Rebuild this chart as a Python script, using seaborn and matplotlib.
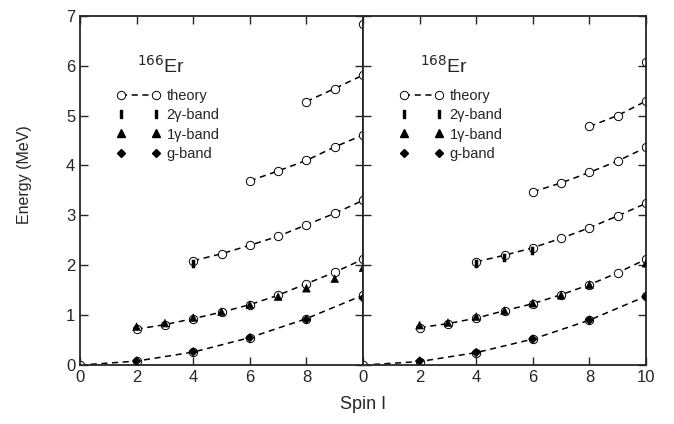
import numpy as np
import pandas as pd
import matplotlib
matplotlib.use("Agg")
import matplotlib.pyplot as plt
from matplotlib.lines import Line2D
import seaborn as sns

# Theory bands (K = 0, 2, 4, 6, 8, 10), energies in MeV
er166_theory = {
    "K0": ([0, 2, 4, 6, 8, 10], [0.0, 0.08, 0.26, 0.55, 0.93, 1.40]),
    "K2": ([2, 3, 4, 5, 6, 7, 8, 9, 10], [0.72, 0.81, 0.93, 1.06, 1.21, 1.40, 1.63, 1.86, 2.12]),
    "K4": ([4, 5, 6, 7, 8, 9, 10], [2.09, 2.23, 2.40, 2.58, 2.81, 3.04, 3.30]),
    "K6": ([6, 7, 8, 9, 10], [3.69, 3.89, 4.10, 4.37, 4.61]),
    "K8": ([8, 9, 10], [5.28, 5.54, 5.81]),
    "K10": ([10], [6.83]),
}
er168_theory = {
    "K0": ([0, 2, 4, 6, 8, 10], [0.0, 0.07, 0.25, 0.52, 0.90, 1.38]),
    "K2": ([2, 3, 4, 5, 6, 7, 8, 9, 10], [0.75, 0.83, 0.94, 1.09, 1.23, 1.41, 1.61, 1.85, 2.12]),
    "K4": ([4, 5, 6, 7, 8, 9, 10], [2.07, 2.20, 2.35, 2.54, 2.75, 2.99, 3.24]),
    "K6": ([6, 7, 8, 9, 10], [3.47, 3.65, 3.86, 4.09, 4.36]),
    "K8": ([8, 9, 10], [4.78, 5.00, 5.29]),
    "K10": ([10], [6.07]),
}

# Experimental levels
er166_g = ([2, 4, 6, 8, 10], [0.08, 0.265, 0.545, 0.91, 1.34])
er166_1g = ([2, 3, 4, 5, 6, 7, 8, 9, 10], [0.77, 0.84, 0.95, 1.07, 1.21, 1.37, 1.54, 1.73, 1.95])
er166_2g = ([4], [2.03])

er168_g = ([2, 4, 6, 8, 10], [0.08, 0.25, 0.52, 0.90, 1.37])
er168_1g = ([2, 3, 4, 5, 6, 7, 8, 10], [0.80, 0.85, 0.97, 1.09, 1.24, 1.40, 1.61, 2.04])
er168_2g = ([4, 5, 6], [2.03, 2.14, 2.28])

nuclei = ["166", "168"]
band_labels = ["theory", "2\u03b3-band", "1\u03b3-band", "g-band"]

# tall thin rectangle marker for the 2-gamma band
bar_marker = [(-0.35, -1), (0.35, -1), (0.35, 1), (-0.35, 1), (-0.35, -1)]


def theory_frame(bands):
    rows = []
    for name, (spin, en) in bands.items():
        for s, e in zip(spin, en):
            rows.append({"band": name, "spin": s, "energy": e})
    return pd.DataFrame(rows)


def exp_frame(g, g1, g2):
    rows = []
    for name, (spin, en) in [("g", g), ("1g", g1), ("2g", g2)]:
        for s, e in zip(spin, en):
            rows.append({"band": name, "spin": s, "energy": e})
    return pd.DataFrame(rows)


sns.set_style("ticks")
plt.rcParams["font.family"] = ["Liberation Sans", "DejaVu Sans"]

fig, axes = plt.subplots(1, 2, figsize=(6.74, 4.24), dpi=100, sharey=True)
fig.subplots_adjust(left=0.1187, right=0.9585, bottom=0.139, top=0.963, wspace=0)

data = [
    (er166_theory, exp_frame(er166_g, er166_1g, er166_2g)),
    (er168_theory, exp_frame(er168_g, er168_1g, er168_2g)),
]

for ax, nuc, (theo, exp) in zip(axes, nuclei, data):
    tdf = theory_frame(theo)
    sns.lineplot(data=tdf, x="spin", y="energy", units="band", estimator=None,
                 color="black", linestyle=(0, (4, 3)), linewidth=1.1,
                 marker="o", markersize=6, markerfacecolor="white",
                 markeredgecolor="black", markeredgewidth=0.7, sort=True,
                 ax=ax, legend=False)
    sns.scatterplot(data=exp, x="spin", y="energy", style="band", size="band",
                    markers={"g": "D", "1g": "^", "2g": bar_marker},
                    sizes={"g": 20, "1g": 32, "2g": 30},
                    color="black", edgecolor="black",
                    ax=ax, legend=False, zorder=4)

    ax.set_xlim(0, 10)
    ax.set_ylim(0, 7)
    ax.set_xticks([0, 2, 4, 6, 8, 10])
    ax.set_yticks(range(0, 8))
    ax.tick_params(direction="in", top=True, right=True, length=6, width=1,
                   labelsize=12)
    for sp in ax.spines.values():
        sp.set_linewidth(1.3)
    ax.set_xlabel("")
    ax.set_ylabel("")

    ax.text(2.0, 6.0, r"$^{%s}$Er" % nuc, fontsize=14, va="center", ha="left")

    handles = [
        Line2D([], [], color="black", linestyle=(0, (4, 3)), linewidth=1.1,
               marker="o", markersize=6, markerfacecolor="white", markeredgewidth=0.7),
        Line2D([], [], linestyle="none", marker=bar_marker, color="black", markersize=6),
        Line2D([], [], linestyle="none", marker="^", color="black", markersize=6),
        Line2D([], [], linestyle="none", marker="D", color="black", markersize=4),
    ]
    ax.legend(handles, band_labels, loc="upper left", bbox_to_anchor=(0.105, 0.81),
              frameon=False, numpoints=2, handlelength=3.0, handletextpad=0.4,
              labelspacing=0.35, fontsize=10.5, borderpad=0)

axes[0].set_xticklabels(["0", "2", "4", "6", "8", ""])
axes[1].set_xticklabels(["0", "2", "4", "6", "8", "10"])
fig.text(0.037, 0.587, "Energy (MeV)", rotation=90, ha="center", va="center",
         fontsize=11.5)
fig.text(0.5386, 0.025, "Spin I", ha="center", va="bottom", fontsize=13)

fig.savefig("out.png", dpi=100)
